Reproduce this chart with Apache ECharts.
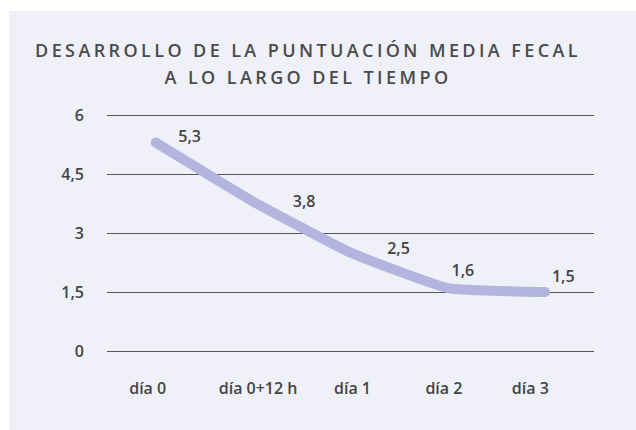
<!DOCTYPE html>
<html>
<head>
<meta charset="utf-8">
<script src="https://cdn.jsdelivr.net/npm/echarts@6/dist/echarts.min.js"></script>
<style>
html,body{margin:0;padding:0;background:#fff;}
#chart{width:636px;height:430px;}
#chart svg text.ttl{letter-spacing:3.4px;}
</style>
</head>
<body>
<div id="chart"></div>
<script>
var titleLines = ['DESARROLLO DE LA PUNTUACIÓN MEDIA FECAL', 'A LO LARGO DEL TIEMPO'];
var categories = ['día 0', 'día 0+12 h', 'día 1', 'día 2', 'día 3'];
var values = [5.3, 3.8, 2.5, 1.6, 1.5];
var yTicks = [0, 1.5, 3, 4.5, 6];
var labelOffsets = [[34, 8], [51, 14], [48, 10], [15, -3], [18, -1]];
var catShift = [-8, 5, 2, -4, -15];

var chart = echarts.init(document.getElementById('chart'), null, {renderer: 'svg'});
function fmt(v){ return String(v).replace('.', ','); }
var FONT = 'Open Sans';
chart.setOption({
  animation: false,
  graphic: [{
    type: 'rect', z: -10, silent: true,
    shape: {x: 9, y: 11, width: 627, height: 419},
    style: {fill: '#f0f0f8'}
  }, {
    type: 'text', silent: true,
    x: 308, y: 36,
    style: {
      text: titleLines.join('\n'),
      align: 'center', verticalAlign: 'top',
      fontFamily: FONT, fontSize: 18, fontWeight: 600,
      fill: '#4a4a4a', lineHeight: 27
    }
  }],
  grid: {left: 107, right: 42, top: 115, bottom: 79},
  xAxis: {
    type: 'category',
    data: categories.map(function(c, i){
      var d = catShift[i];
      return {value: c, textStyle: {padding: d >= 0 ? [0, 0, 0, 2 * d] : [0, -2 * d, 0, 0]}};
    }),
    boundaryGap: true,
    axisLine: {show: false},
    axisTick: {show: false},
    axisLabel: {interval: 0, margin: 29, color: '#444444', fontSize: 16, fontWeight: 600, fontFamily: FONT}
  },
  yAxis: {
    type: 'value',
    min: yTicks[0], max: yTicks[yTicks.length - 1], interval: 1.5,
    axisLine: {show: false},
    axisTick: {show: false},
    splitLine: {lineStyle: {color: '#555555', width: 1}},
    axisLabel: {margin: 23, color: '#444444', fontSize: 16, fontWeight: 600, fontFamily: FONT, formatter: fmt}
  },
  series: [{
    type: 'line',
    data: values.map(function(v, i){ return {value: v, label: {offset: labelOffsets[i]}}; }),
    smooth: 0.12,
    showSymbol: true,
    symbol: 'circle',
    symbolSize: 2,
    itemStyle: {color: 'rgba(0,0,0,0)', borderWidth: 0},
    lineStyle: {color: '#b3b5de', width: 10, cap: 'round', join: 'round'},
    label: {
      show: true, position: 'top', distance: 6, opacity: 1,
      color: '#444444', fontSize: 16, fontWeight: 600, fontFamily: FONT,
      formatter: function(p){ return fmt(p.value); }
    }
  }]
});
var texts = document.querySelectorAll('#chart svg text');
texts.forEach(function(t){
  var s = t.textContent;
  if (titleLines.indexOf(s) >= 0 || s.indexOf('DESARROLLO') >= 0 || s.indexOf('LARGO') >= 0) t.classList.add('ttl');
});
</script>
</body>
</html>
